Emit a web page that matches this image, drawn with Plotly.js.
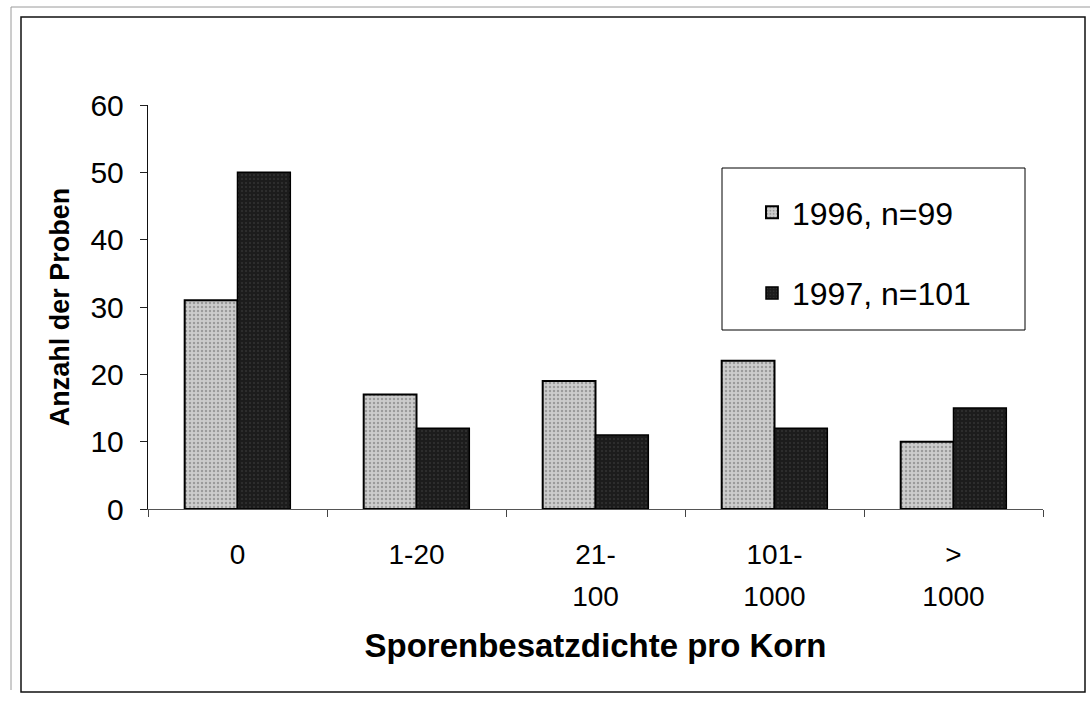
<!DOCTYPE html>
<html>
<head>
<meta charset="utf-8">
<script src="https://cdn.plot.ly/plotly-3.0.1.min.js"></script>
<style>
  html, body { margin: 0; padding: 0; background: #ffffff; }
  #chart { width: 1092px; height: 701px; }
</style>
</head>
<body>
<div id="chart"></div>
<script>
// ---- data ----
const categories = ['0', '1-20', '21-100', '101-1000', '>1000'];
const tickLabels = ['0', '1-20', '21-<br>100', '101-<br>1000', '&gt;<br>1000'];
const values1996 = [31, 17, 19, 22, 10];
const values1997 = [50, 12, 11, 12, 15];
const seriesNames = ['1996, n=99', '1997, n=101'];
const yTickValues = [0, 10, 20, 30, 40, 50, 60];
const xTitle = 'Sporenbesatzdichte pro Korn';
const yTitle = 'Anzahl der Proben';

// ---- layout helpers ----
const W = 1092, H = 701;
const M = { l: 148, r: 49, t: 105, b: 192 };
const PW = W - M.l - M.r, PH = H - M.t - M.b;
const px = x => (x - M.l) / PW;
const py = y => (H - M.b - y) / PH;
const FONT = '"Liberation Sans", Arial, Helvetica, sans-serif';

const wrapTick = t => t.split('<br>').map(s => '<span style="font-size:28px">' + s + '</span>').join('<br>');

const traces = [
  {
    type: 'bar', x: categories, y: values1996, name: seriesNames[0],
    legendgroup: 'a',
    marker: {
      color: '#c8c8c8',
      line: { color: '#000000', width: 2 },
      pattern: { shape: '.', bgcolor: '#cccccc', fgcolor: '#6a6a6a', size: 4, solidity: 0.3, fillmode: 'overlay' }
    },
    hoverinfo: 'x+y'
  },
  {
    type: 'bar', x: categories, y: values1997, name: seriesNames[1],
    legendgroup: 'b',
    marker: {
      color: '#1c1c1c',
      line: { color: '#000000', width: 1.5 },
      pattern: { shape: '.', bgcolor: '#1c1c1c', fgcolor: '#4a4a4a', size: 4, solidity: 0.2, fillmode: 'overlay' }
    },
    hoverinfo: 'x+y'
  }
];

const layout = {
  width: W, height: H,
  margin: M,
  paper_bgcolor: '#ffffff', plot_bgcolor: '#ffffff',
  font: { family: FONT, color: '#000000' },
  barmode: 'group', bargap: 0.41, bargroupgap: 0,
  showlegend: true,
  legend: {
    x: px(752), y: py(185), xanchor: 'left', yanchor: 'top',
    bgcolor: 'rgba(0,0,0,0)', borderwidth: 0,
    font: { family: FONT, size: 32, color: '#000000' },
    traceorder: 'grouped', tracegroupgap: 36
  },
  xaxis: {
    type: 'category', categoryorder: 'array', categoryarray: categories,
    range: [-0.5, 4.5], fixedrange: true,
    tickmode: 'array', tickvals: categories, ticktext: tickLabels.map(wrapTick),
    tickson: 'boundaries', ticks: 'outside', ticklen: 7, tickcolor: '#444', tickwidth: 1,
    tickfont: { family: FONT, size: 32, color: '#000000' },
    ticklabelstandoff: 16,
    showline: true, linecolor: '#555555', linewidth: 1,
    showgrid: false, zeroline: false, automargin: false,
    title: { text: xTitle, font: { family: FONT, size: 33, color: '#000000', weight: 'bold' }, standoff: 22 }
  },
  xaxis2: {
    overlaying: 'x', anchor: 'y', type: 'linear', range: [0, 5],
    tickmode: 'linear', tick0: 0, dtick: 1, ticks: 'inside', ticklen: 7, tickcolor: '#444',
    showticklabels: false, showline: false, showgrid: false, zeroline: false, fixedrange: true
  },
  yaxis: {
    range: [0, 60], fixedrange: true,
    tickmode: 'array', tickvals: yTickValues,
    ticks: 'outside', ticklen: 7, tickcolor: '#222', tickwidth: 1,
    tickfont: { family: FONT, size: 30, color: '#000000' },
    ticklabelstandoff: 10,
    showline: true, linecolor: '#111111', linewidth: 1.2,
    showgrid: false, zeroline: false, automargin: false,
    title: { text: yTitle, font: { family: FONT, size: 27, color: '#000000', weight: 'bold' }, standoff: 13 }
  },
  yaxis2: {
    overlaying: 'y', anchor: 'x', side: 'left', range: [0, 60],
    tickmode: 'array', tickvals: yTickValues, ticks: 'inside', ticklen: 7, tickcolor: '#222',
    showticklabels: false, showline: false, showgrid: false, zeroline: false, fixedrange: true
  },
  shapes: [
    // outer frame
    { type: 'rect', xref: 'paper', yref: 'paper', x0: px(21), x1: px(1085), y0: py(692), y1: py(17),
      line: { color: '#111111', width: 1.5 }, fillcolor: 'rgba(0,0,0,0)', layer: 'below' },
    // faint outer scan edge
    { type: 'line', xref: 'paper', yref: 'paper', x0: px(11), x1: px(1090), y0: py(7), y1: py(7),
      line: { color: '#9a9a9a', width: 1 } },
    { type: 'line', xref: 'paper', yref: 'paper', x0: px(11), x1: px(11), y0: py(7), y1: py(690),
      line: { color: '#9a9a9a', width: 1 } },
    // legend box
    { type: 'rect', xref: 'paper', yref: 'paper', x0: px(722), x1: px(1025), y0: py(330), y1: py(168),
      line: { color: '#000000', width: 1 }, fillcolor: '#ffffff', layer: 'above' }
  ]
};

Plotly.newPlot('chart', traces, layout, { displayModeBar: false, staticPlot: true });
</script>
</body>
</html>
